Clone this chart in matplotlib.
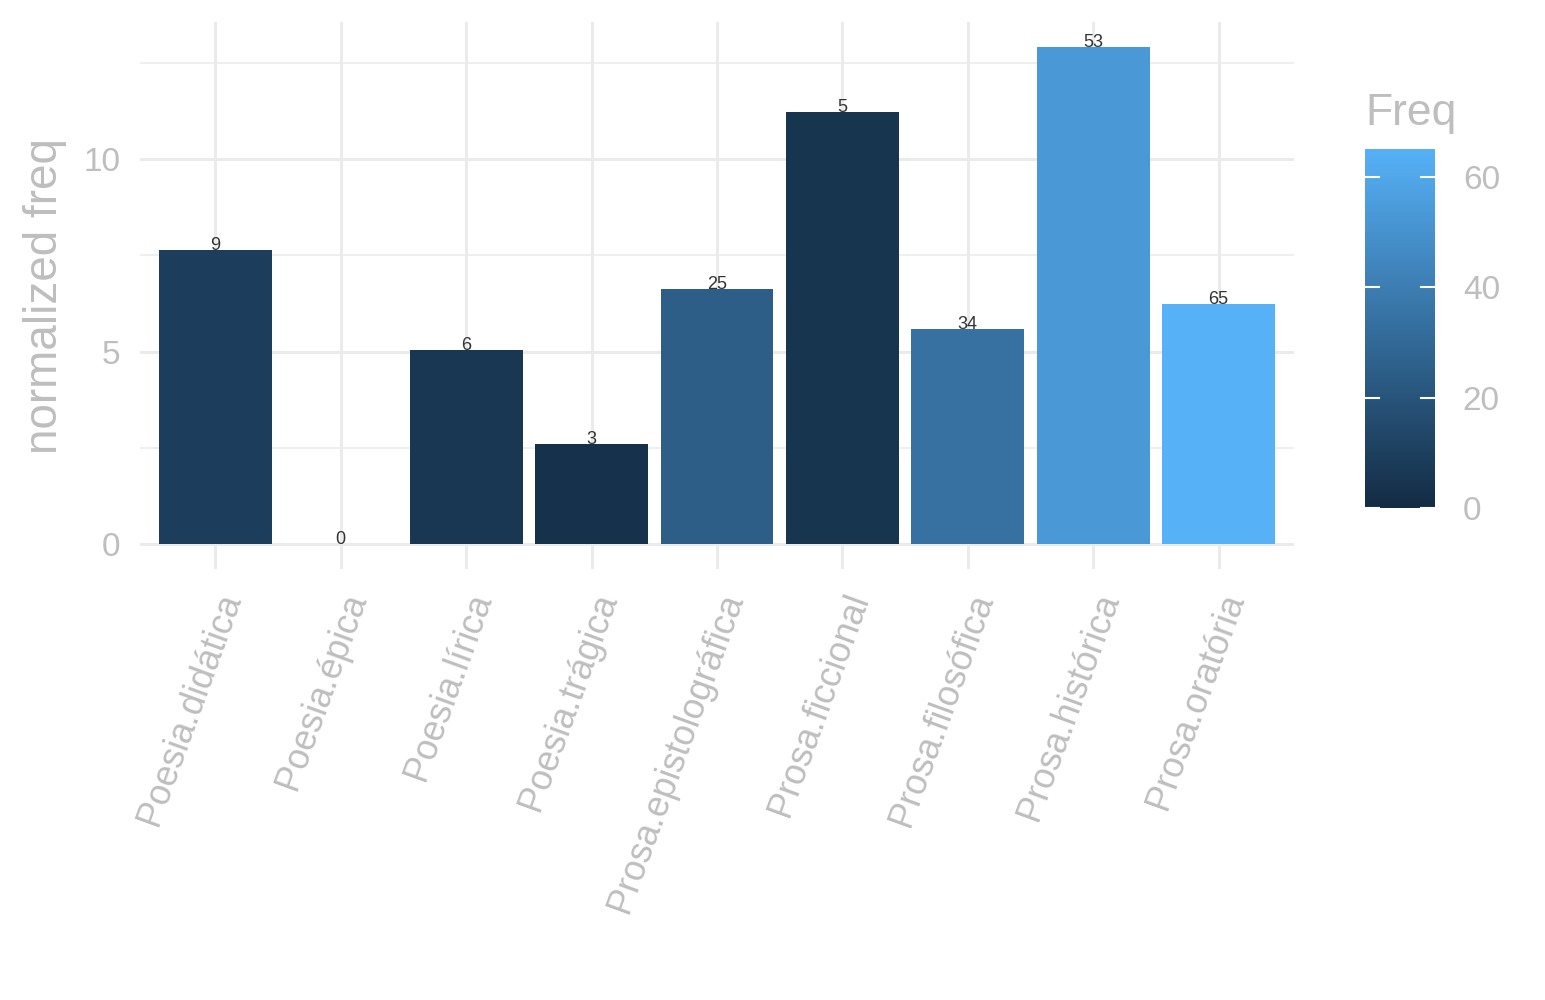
import numpy as np
import matplotlib.pyplot as plt
from matplotlib.colors import LinearSegmentedColormap, Normalize
from matplotlib.cm import ScalarMappable

plt.rcParams['font.family'] = ['Liberation Sans', 'DejaVu Sans']

genres = ["Poesia.didática", "Poesia.épica", "Poesia.lírica", "Poesia.trágica",
          "Prosa.epistolográfica", "Prosa.ficcional", "Prosa.filosófica",
          "Prosa.histórica", "Prosa.oratória"]
norm_freq = [7.64, 0.0, 5.04, 2.60, 6.62, 11.22, 5.58, 12.91, 6.23]
freq = [9, 0, 6, 3, 25, 5, 34, 53, 65]

grey_txt = '#BEBEBE'
grid_col = '#EBEBEB'

cmap = LinearSegmentedColormap.from_list('gg', ['#132B43', '#56B1F7'])
cnorm = Normalize(vmin=0, vmax=65)

fig = plt.figure(figsize=(15.45, 10), dpi=100)
ax = fig.add_axes([0.0906, 0.431, 0.7469, 0.547])

x = np.arange(1, len(genres) + 1)
ax.bar(x, norm_freq, width=0.9, color=cmap(cnorm(freq)), zorder=2)
for xi, h, f in zip(x, norm_freq, freq):
    ax.text(xi, h, str(f), ha='center', va='baseline', fontsize=13,
            color='#333333', zorder=3)

ax.set_xlim(0.4, 9.6)
ymax = max(norm_freq)
ax.set_ylim(-0.05 * ymax, ymax * 1.05)

ax.set_yticks([0, 5, 10])
ax.set_yticks([2.5, 7.5, 12.5], minor=True)
ax.set_xticks(x)
ax.set_xticklabels(genres, rotation=70, ha='right', va='top',
                   rotation_mode='anchor')
ax.grid(True, which='major', color=grid_col, linewidth=2.2, zorder=0)
ax.grid(True, which='minor', axis='y', color=grid_col, linewidth=1.1, zorder=0)
ax.set_axisbelow(True)
for s in ax.spines.values():
    s.set_visible(False)
ax.tick_params(axis='both', which='both', length=0, labelsize=24,
               labelcolor=grey_txt)
ax.tick_params(axis='x', pad=14, labelsize=26)
ax.tick_params(axis='y', pad=14)
ax.set_ylabel('normalized freq', fontsize=33, color=grey_txt, labelpad=12)

# colour bar legend
cax = fig.add_axes([0.8835, 0.492, 0.0453, 0.359])
sm = ScalarMappable(norm=cnorm, cmap=cmap)
cb = fig.colorbar(sm, cax=cax, ticks=[0, 20, 40, 60])
cb.outline.set_visible(False)
cax.tick_params(length=0, labelsize=24, labelcolor=grey_txt, pad=20)
for t in [0, 20, 40, 60]:
    cax.plot([0, 0.2], [t, t], color='white', lw=1.5, transform=cax.get_yaxis_transform())
    cax.plot([0.8, 1.0], [t, t], color='white', lw=1.5, transform=cax.get_yaxis_transform())
fig.text(0.8835, 0.875, 'Freq', fontsize=32, color=grey_txt, ha='left', va='baseline')

fig.savefig('out.png', dpi=100)
